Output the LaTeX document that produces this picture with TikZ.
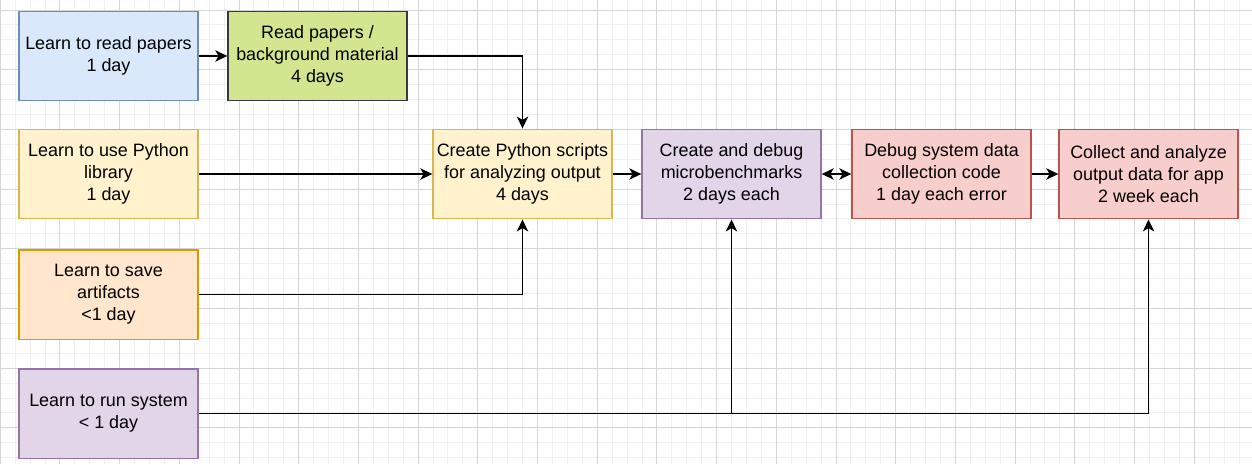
\documentclass[tikz,border=0pt]{standalone}
\usepackage{fontspec}
\setmainfont{Liberation Sans}
\usetikzlibrary{arrows.meta}

\definecolor{blueFill}{HTML}{DAE8FC}\definecolor{blueLine}{HTML}{6C8EBF}
\definecolor{greenFill}{HTML}{D2E68F}\definecolor{greenLine}{HTML}{36393D}
\definecolor{yellowFill}{HTML}{FFF2CC}\definecolor{yellowLine}{HTML}{D6B656}
\definecolor{orangeFill}{HTML}{FFE6CC}\definecolor{orangeLine}{HTML}{D79B00}
\definecolor{purpleFill}{HTML}{E1D5E7}\definecolor{purpleLine}{HTML}{9673A6}
\definecolor{redFill}{HTML}{F8CECC}\definecolor{redLine}{HTML}{B85450}

\begin{document}
\begin{tikzpicture}[x=0.75pt, y=-0.75pt,
  box/.style={draw, line width=1.1pt, minimum width=134.2pt, minimum height=67.1pt,
    align=center, inner sep=0pt,
    font=\fontsize{13.45}{16.5}\selectfont},
  bluebox/.style={box, fill=blueFill, draw=blueLine},
  greenbox/.style={box, fill=greenFill, draw=greenLine},
  yellowbox/.style={box, fill=yellowFill, draw=yellowLine},
  orangebox/.style={box, fill=orangeFill, draw=orangeLine},
  purplebox/.style={box, fill=purpleFill, draw=purpleLine},
  redbox/.style={box, fill=redFill, draw=redLine},
  tip/.tip={Stealth[length=9pt, width=8.5pt, inset=2.5pt]},
  arr/.style={line width=1.1pt, -tip}]
  \useasboundingbox (0,0) rectangle (1252,464);
  \fill[white] (0,0) rectangle (1252,464);
  % grid
  \foreach \i in {0,...,84}
    \draw[black!6, line width=0.75pt] ({0.225+\i*14.925},0) -- ({0.225+\i*14.925},464);
  \foreach \i in {0,...,30}
    \draw[black!6, line width=0.75pt] (0,{10+\i*14.925}) -- (1252,{10+\i*14.925});
  \foreach \i in {0,...,21}
    \draw[black!16, line width=0.75pt] ({0.225+\i*59.7},0) -- ({0.225+\i*59.7},464);
  \foreach \i in {0,...,7}
    \draw[black!16, line width=0.75pt] (0,{10+\i*59.7}) -- (1252,{10+\i*59.7});

  \node[bluebox]   (learn)    at (108.5,56)  {Learn to read papers\\1 day};
  \node[greenbox]  (read)     at (317.5,56)  {Read papers /\\background material\\4 days};
  \node[yellowbox] (pylib)    at (108.5,174) {Learn to use Python\\library\\1 day};
  \node[orangebox] (save)     at (108.5,294.5) {Learn to save\\artifacts\\<1 day};
  \node[purplebox] (runsys)   at (108.5,413.5) {Learn to run system\\< 1 day};
  \node[yellowbox] (scripts)  at (522.5,174) {Create Python scripts\\for analyzing output\\4 days};
  \node[purplebox] (micro)    at (731.5,174) {Create and debug\\microbenchmarks\\2 days each};
  \node[redbox]    (debugsys) at (941.5,174) {Debug system data\\collection code\\1 day each error};
  \node[redbox]    (collect)  at (1148.5,174) {Collect and analyze\\output data for app\\2 week each};

  \draw[arr] (learn) -- (read);
  \draw[arr] (read.east) -| (scripts.north);
  \draw[arr] (pylib) -- (scripts);
  \draw[arr] (save.east) -| (scripts.south);
  \draw[arr] (scripts) -- (micro);
  \draw[arr, tip-tip] (micro) -- (debugsys);
  \draw[arr] (debugsys) -- (collect);
  \draw[arr] (runsys.east) -| (collect.south);
  \coordinate (split) at (micro.south |- runsys.east);
  \draw[arr] (split) -- (micro.south);
\end{tikzpicture}
\end{document}
